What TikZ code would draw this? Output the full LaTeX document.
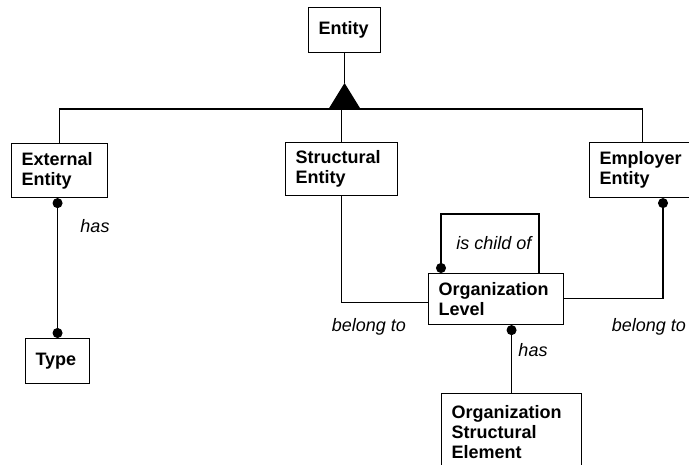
\documentclass[tikz,border=0pt]{standalone}
\usepackage{fontspec}
\setmainfont{Liberation Sans}
\usetikzlibrary{arrows.meta}
\tikzset{
  ent/.style={draw,line width=1.1pt,align=left,anchor=north west,inner xsep=10pt,
    font=\fontsize{18}{20}\selectfont\bfseries},
  lbl/.style={font=\fontsize{18}{20}\selectfont\itshape},
  link/.style={line width=1.1pt},
  dotA/.style={link,{Circle[length=10pt]}-},
  dotAB/.style={link,{Circle[length=10pt]}-{Circle[length=10pt]}}
}
\begin{document}
\begin{tikzpicture}[x=1pt,y=-1pt]
  \useasboundingbox (0,0) rectangle (689,464);
  \clip (0,0) rectangle (689,464);
  % boxes
  \node[ent,text width=52pt,minimum height=45pt] (entity) at (308,7) {Entity};
  \node[ent,text width=76pt,minimum height=54pt] (ext) at (11,143) {External\\Entity};
  \node[ent,text width=92pt,minimum height=53pt] (struct) at (285,142) {Structural\\Entity};
  \node[ent,text width=86pt,minimum height=55pt] (emp) at (589,142) {Employer\\Entity};
  \node[ent,text width=115pt,minimum height=51pt] (orglev) at (428,273) {Organization\\Level};
  \node[ent,text width=44pt,minimum height=45pt] (type) at (25,338) {Type};
  \node[ent,text width=120pt,minimum height=78pt] (ose) at (441,393) {Organization\\Structural\\Element};
  % generalization
  \coordinate (apex) at (entity.south |- 0,83);
  \coordinate (bus) at (entity.south |- 0,109);
  \draw[link] (entity.south) -- (apex);
  \fill (apex) -- ([xshift=16pt]bus) -- ([xshift=-16pt]bus) -- cycle;
  \draw[link] (ext.north) |- (struct.north |- bus) -| (emp.north);
  \draw[link] (struct.north) -- (struct.north |- bus);
  % relations
  \draw[dotAB] (type.north |- ext.south) -- (type.north);
  \node[lbl] (has1) at (95,226) {has};
  \draw[link] (struct.south) |- ([yshift=-3pt]orglev.west);
  \draw[dotA] (emp.south -| 663,0) |- ([yshift=1pt]orglev.east);
  \node[lbl] (belong1) at (369,327) {belong to};
  \node[lbl] (belong2) at (649,327) {belong to};
  \draw[dotA] ([xshift=13pt]orglev.north west) |- ([xshift=111pt,yshift=59pt]orglev.north west)
    -- ([xshift=111pt]orglev.north west);
  \node[lbl] (child) at (494,243) {is child of};
  \draw[dotA] (orglev.south -| ose.north) -- (ose.north);
  \node[lbl] (has2) at (533,350) {has};
\end{tikzpicture}
\end{document}
